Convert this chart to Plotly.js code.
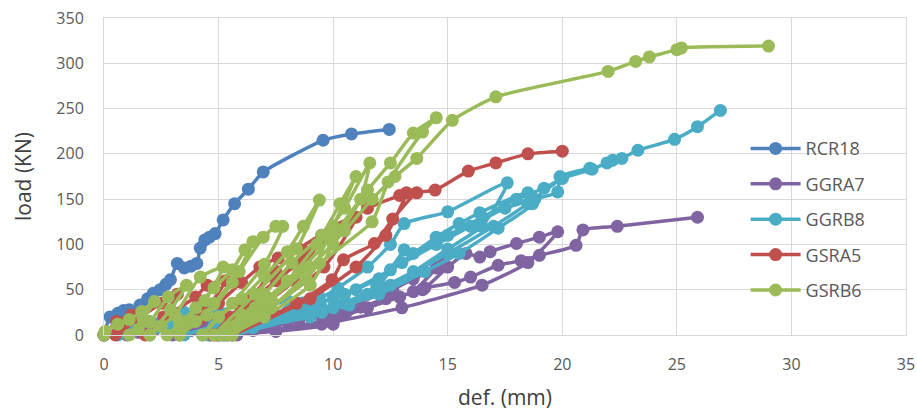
<!DOCTYPE html>
<html>
<head>
<meta charset="utf-8">
<script src="https://cdn.plot.ly/plotly-3.0.1.min.js"></script>
<style>html,body{margin:0;padding:0;background:#fff}#chart{width:917px;height:417px}</style>
</head>
<body>
<div id="chart"></div>
<script>
// Series names
const seriesNames = ["RCR18", "GGRA7", "GGRB8", "GSRA5", "GSRB6"];
const seriesColors = ["#4F81BD", "#8064A2", "#4BACC6", "#C0504D", "#9BBB59"];

// RCR18 (def. mm, load kN)
const rcr18X = [0, 0.26, 0.6, 0.85, 1.1, 1.57, 1.9, 2.15, 2.45, 2.7, 2.9, 3.2, 3.5, 3.8, 4.05, 4.2, 4.4, 4.6, 4.85, 5.2, 5.7, 6.3, 6.95, 9.56, 10.8, 12.45];
const rcr18Y = [0, 20, 24, 27, 28, 33, 40, 46, 50, 56, 61, 79, 74, 76, 79, 96, 105, 108, 112, 127, 145, 161, 180, 215, 222, 227];

// GGRA7
const ggra7X = [0, 1.0, 2.0, 1.5, 1.0, 2.2, 3.0, 4.5, 3.8, 3.0, 4.2, 5.5, 7.5, 6.5, 4.6, 6.0, 8.0, 9.7, 10.6, 11.2, 10.0, 7.5, 5.0,
  7.0, 9.5, 11.0, 12.6, 13.5, 14.5, 14.7, 13.5, 12.9, 11.5, 10.0, 7.5, 5.4,
  8.0, 10.6, 12.3, 13.9, 15.0, 15.8, 16.4, 16.85, 18.0, 19.0, 19.8, 18.5, 16.5, 13.0, 9.5, 5.8,
  8.5, 11.2, 12.9, 14.0, 15.3, 16.0, 17.2, 18.2, 19.0, 20.6, 20.9, 22.4, 25.9];
const ggra7Y = [0, 5, 10, 3, 0, 6, 10, 15, 5, 0, 5, 12, 18, 5, 0, 8, 15, 20, 26, 31, 12, 4, 0,
  10, 22, 35, 50, 62, 74, 79, 48, 42, 30, 18, 6, 0,
  14, 26, 40, 50, 75, 90, 86, 92, 101, 108, 114, 80, 55, 30, 12, 0,
  16, 31, 42, 52, 58, 64, 77, 82, 88, 99, 116, 120, 130];

// GGRB8
const ggrb8X = [0, 0.8, 1.5, 1.0, 0.6, 2.0, 3.5, 2.8, 2.0, 3.0, 4.0, 6.0, 5.0, 3.5, 4.8, 6.0, 8.0, 9.4, 8.0, 6.0, 4.3,
  6.0, 8.0, 9.5, 10.7, 11.9, 13.1, 12.0, 10.5, 9.0, 6.5, 4.6,
  7.0, 9.0, 10.2, 11.5, 12.5, 13.1, 15.0, 17.6, 16.5, 15.0, 13.5, 11.5, 9.0, 5.0,
  7.5, 10.0, 12.0, 13.5, 14.5, 15.5, 16.4, 18.5, 18.7, 17.2, 15.5, 14.0, 12.0, 9.5, 5.3,
  8.0, 10.5, 12.5, 14.5, 16.0, 17.5, 18.8, 19.8, 19.9, 21.2, 20.0, 18.5, 17.0, 15.0, 12.5, 10.0, 5.6,
  8.5, 11.0, 13.0, 15.0, 16.5, 18.0, 19.2, 20.0, 21.3, 21.95, 22.2, 22.6, 23.3, 24.9, 25.9, 26.9];
const ggrb8Y = [0, 8, 15, 5, 0, 15, 25, 10, 0, 10, 20, 32, 12, 0, 10, 22, 38, 42, 20, 8, 0,
  12, 25, 30, 33, 53, 94, 55, 35, 20, 8, 0,
  18, 35, 52, 75, 100, 123, 136, 168, 120, 95, 70, 45, 25, 0,
  22, 40, 62, 90, 108, 123, 135, 157, 145, 118, 90, 70, 45, 25, 0,
  25, 45, 72, 100, 120, 140, 150, 158, 175, 184, 173, 145, 120, 90, 55, 30, 0,
  28, 50, 80, 110, 130, 150, 162, 173, 183, 190, 193, 195, 204, 216, 230, 248];

// GSRA5
const gsra5X = [0, 0.55, 1.2, 0.8, 0.5, 1.5, 2.5, 3.2, 2.6, 1.8, 3.0, 4.0, 4.5, 5.3, 4.5, 3.3,
  4.2, 5.0, 6.0, 6.8, 7.6, 6.6, 5.5, 4.75, 5.5, 6.5, 7.5, 8.5, 9.5, 8.3, 6.5, 4.9, 6.0, 7.5, 8.8, 10.0, 11.0, 9.6, 7.2, 5.2,
  6.8, 8.5, 10.0, 11.5, 12.9, 13.2, 12.3, 11.0, 9.0, 5.6,
  8.4, 9.95, 10.45, 11.8, 12.6, 13.65, 14.45, 15.9, 17.1, 18.5, 20.0];
const gsra5Y = [0, 15, 22, 8, 0, 18, 35, 45, 20, 0, 25, 42, 55, 60, 30, 0,
  18, 35, 58, 75, 85, 45, 15, 0, 20, 45, 70, 95, 110, 60, 25, 0, 28, 60, 92, 120, 130, 75, 30, 0,
  45, 80, 112, 140, 154, 157, 110, 75, 40, 0,
  35, 61, 83, 101, 128, 157, 160, 181, 190, 200, 203];

// GSRB6
const gsrb6X = [0, 0.05, 0.6, 1.1, 1.65, 2.2, 1.7, 1.1, 1.5, 2.0, 2.8, 3.6, 2.9, 2.0, 2.5, 3.1, 4.2, 5.2, 4.4, 3.5, 2.75,
  3.3, 4.0, 4.8, 5.6, 6.15, 6.5, 5.6, 4.5, 3.3, 4.0, 4.8, 5.9, 6.95, 7.5, 7.8, 7.0, 5.6, 4.3,
  5.0, 6.0, 7.0, 8.0, 8.7, 9.4, 8.4, 6.6, 4.8, 6.0, 7.0, 8.2, 9.5, 10.3, 11.0, 10.0, 8.85, 6.8, 5.1,
  6.6, 8.0, 9.3, 10.5, 11.6, 11.2, 10.0, 9.0, 7.0, 5.4, 7.0, 8.5, 10.0, 11.5, 12.5, 13.5, 14.5, 13.9, 12.4, 11.7, 9.4, 7.3, 5.6,
  7.3, 9.0, 10.5, 11.7, 12.7, 13.65, 15.2, 17.1, 22.0, 23.2, 23.8, 25.0, 25.2, 29.0];
const gsrb6Y = [0, 4, 12, 17, 26, 37, 18, 0, 6, 14, 42, 55, 28, 0, 10, 22, 64, 75, 38, 15, 0,
  12, 30, 52, 72, 94, 103, 58, 22, 0, 15, 35, 70, 108, 120, 120, 78, 35, 0,
  20, 40, 65, 92, 120, 149, 95, 45, 0, 22, 45, 80, 110, 145, 175, 120, 61, 22, 0,
  30, 60, 100, 140, 190, 150, 100, 55, 20, 0, 35, 70, 110, 160, 190, 223, 240, 224, 169, 125, 79, 30, 0,
  40, 75, 115, 150, 175, 195, 237, 263, 291, 302, 307, 315, 317, 319];

// Axis ticks
const xTicks = [0, 5, 10, 15, 20, 25, 30, 35];
const yTicks = [0, 50, 100, 150, 200, 250, 300, 350];

const allX = [rcr18X, ggra7X, ggrb8X, gsra5X, gsrb6X];
const allY = [rcr18Y, ggra7Y, ggrb8Y, gsra5Y, gsrb6Y];

const traces = seriesNames.map((name, i) => ({
  type: 'scatter',
  mode: 'lines+markers',
  name: name,
  x: allX[i],
  y: allY[i],
  line: {color: seriesColors[i], width: 3.5, shape: 'spline', smoothing: 0.5},
  marker: {color: seriesColors[i], size: 13},
  cliponaxis: false,
  legendgroup: name
}));

const fontFam = '"Open Sans", "Liberation Sans", sans-serif';

const layout = {
  width: 917,
  height: 417,
  margin: {l: 104, r: 11, t: 18, b: 82},
  paper_bgcolor: '#ffffff',
  plot_bgcolor: '#ffffff',
  font: {family: fontFam, color: '#595959', size: 16},
  showlegend: true,
  legend: {
    x: 0.8, y: 0.646, xanchor: 'left', yanchor: 'top',
    bgcolor: 'rgba(0,0,0,0)',
    font: {size: 18, color: '#595959', family: fontFam},
    itemwidth: 50,
    tracegroupgap: 9,
    traceorder: 'grouped'
  },
  xaxis: {
    range: [0, 35],
    tickvals: xTicks,
    ticktext: xTicks.map(String),
    showgrid: true, gridcolor: '#D9D9D9', gridwidth: 1,
    zeroline: false,
    showline: true, linecolor: '#D9D9D9', linewidth: 1, mirror: true,
    ticks: '',
    ticklabelstandoff: 15,
    tickfont: {size: 16, color: '#595959'},
    title: {text: 'def. (mm)', font: {size: 21, color: '#404040'}, standoff: 16}
  },
  yaxis: {
    range: [0, 350],
    tickvals: yTicks,
    ticktext: yTicks.map(String),
    showgrid: true, gridcolor: '#D9D9D9', gridwidth: 1,
    zeroline: false,
    showline: true, linecolor: '#D9D9D9', linewidth: 1, mirror: true,
    ticks: '',
    ticklabelstandoff: 16,
    tickfont: {size: 16, color: '#595959'},
    title: {text: 'load (KN)', font: {size: 21, color: '#404040'}, standoff: 18}
  }
};

Plotly.newPlot('chart', traces, layout, {displayModeBar: false, staticPlot: true});
</script>
</body>
</html>
